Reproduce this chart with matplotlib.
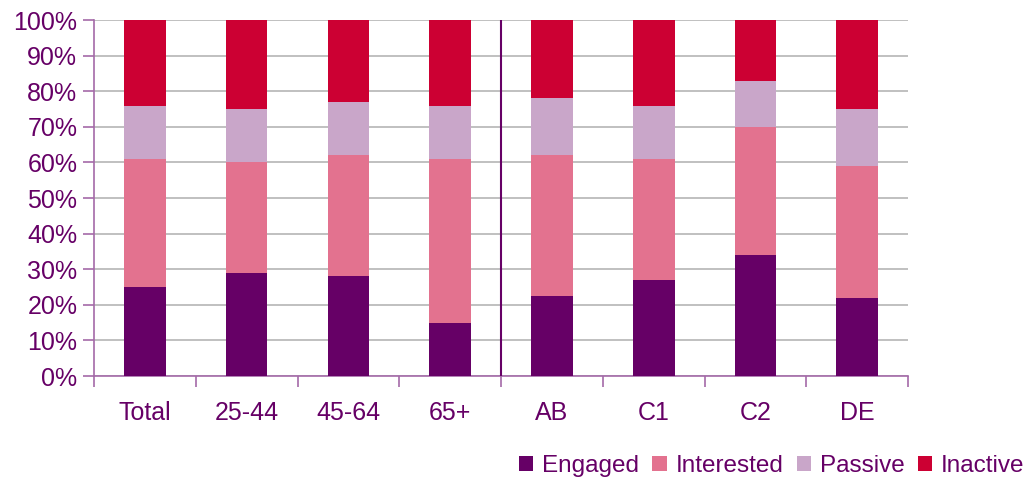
import numpy as np
import matplotlib
matplotlib.use("Agg")
import matplotlib.pyplot as plt
from matplotlib.ticker import FixedLocator, PercentFormatter

plt.rcParams['font.family'] = ['Liberation Sans', 'DejaVu Sans']

# data (percent of each group)
categories = ["Total", "25-44", "45-64", "65+", "AB", "C1", "C2", "DE"]
engaged    = [25, 29, 28, 15, 22.5, 27, 34, 22]
interested = [36, 31, 34, 46, 39.5, 34, 36, 37]
passive    = [15, 15, 15, 15, 16,   15, 13, 16]
inactive   = [24, 25, 23, 24, 22,   24, 17, 25]

series = [("Engaged", engaged, "#660066"),
          ("Interested", interested, "#E3728F"),
          ("Passive", passive, "#C9A6C9"),
          ("Inactive", inactive, "#CC0033")]

text_col = "#660066"
axis_col = "#A46AA8"

fig = plt.figure(figsize=(10.25, 4.79), dpi=100)
ax = fig.add_axes([0.0917, 0.215, 0.7942, 0.743])

x = np.arange(len(categories))
bottom = np.zeros(len(categories))
for name, vals, col in series:
    ax.bar(x, vals, width=0.41, bottom=bottom, color=col, label=name, zorder=3)
    bottom += np.array(vals)

ax.set_xlim(-0.5, len(categories) - 0.5)
ax.set_ylim(0, 100)

# gridlines
ax.yaxis.set_major_locator(FixedLocator(np.arange(0, 101, 10)))
ax.yaxis.set_major_formatter(PercentFormatter(decimals=0))
ax.grid(axis='y', color='#C0C0C0', linewidth=1.4, zorder=0)

# x ticks: boundaries as major ticks, labels on minor ticks
ax.set_xticks(np.arange(-0.5, len(categories), 1.0))
ax.set_xticklabels([])
ax.set_xticks(x, minor=True)
ax.set_xticklabels(categories, minor=True)
ax.tick_params(axis='x', which='major', direction='out', length=8, width=1.2, color=axis_col)
ax.tick_params(axis='x', which='minor', length=0, pad=18, labelsize=18, labelcolor=text_col)
ax.tick_params(axis='y', direction='out', length=8, width=1.2, color=axis_col,
               pad=4, labelsize=18, labelcolor=text_col)

for s in ['top', 'right']:
    ax.spines[s].set_visible(False)
for s in ['left', 'bottom']:
    ax.spines[s].set_color(axis_col)
    ax.spines[s].set_linewidth(1.2)

# separator between age and social grade groups
ax.axvline(3.5, color="#660066", linewidth=1.5, zorder=4)

leg = fig.legend(loc='lower right', bbox_to_anchor=(1.009, -0.016), ncol=4, frameon=False,
                 fontsize=17.5, handlelength=0.6, handleheight=0.6, handletextpad=0.35,
                 columnspacing=0.55, borderaxespad=0.0)
for t in leg.get_texts():
    t.set_color(text_col)

fig.savefig("out.png", dpi=100)
